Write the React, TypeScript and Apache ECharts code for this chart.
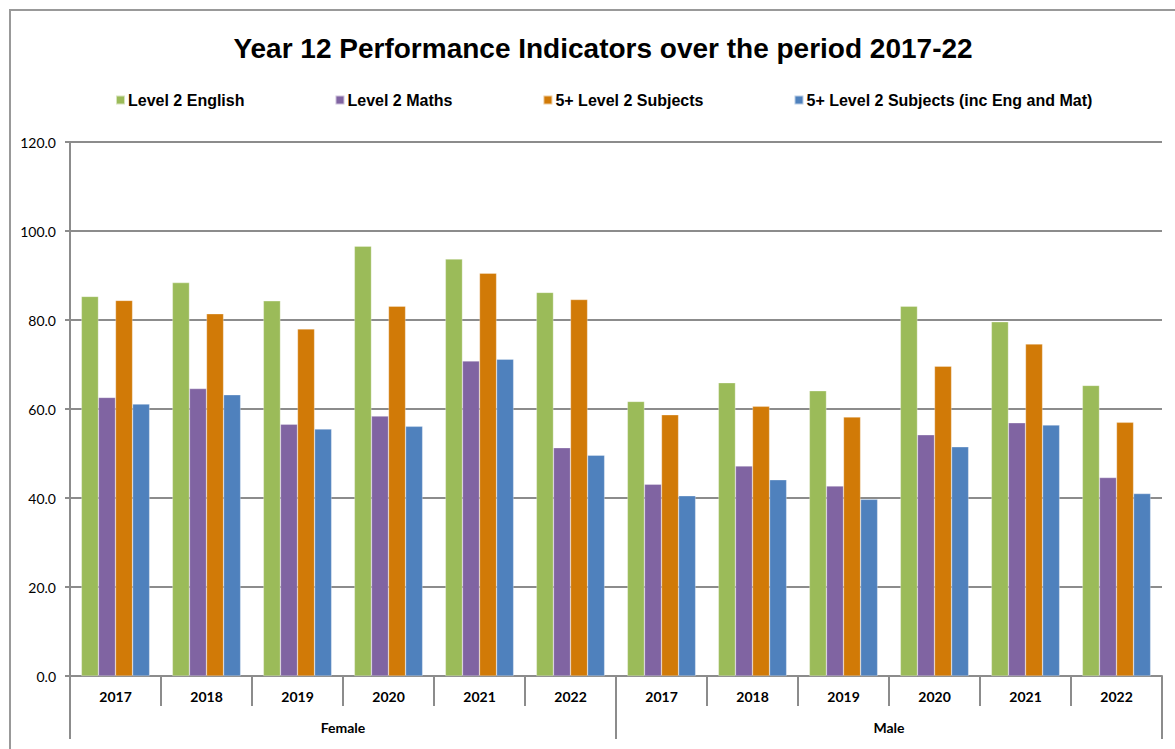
import React, { useEffect, useRef } from "react";
import * as echarts from "echarts";

const groups = ["Female", "Male"];
const years = ["2017", "2018", "2019", "2020", "2021", "2022"];
const seriesNames = [
  "Level 2 English",
  "Level 2 Maths",
  "5+ Level 2 Subjects",
  "5+ Level 2 Subjects (inc Eng and Mat)",
];
// Female 2017-2022 then Male 2017-2022
const english = [85.3, 88.4, 84.3, 96.6, 93.7, 86.2, 61.7, 65.9, 64.1, 83.1, 79.6, 65.3];
const maths = [62.6, 64.6, 56.6, 58.4, 70.8, 51.3, 43.1, 47.2, 42.7, 54.2, 56.9, 44.6];
const fivePlus = [84.4, 81.4, 78.0, 83.1, 90.5, 84.6, 58.7, 60.6, 58.2, 69.6, 74.6, 57.0];
const fivePlusEngMat = [61.1, 63.2, 55.5, 56.1, 71.2, 49.6, 40.5, 44.1, 39.7, 51.5, 56.4, 41.0];
const yTicks = [0, 20, 40, 60, 80, 100, 120];

const colors = ["#9BBB59", "#8064A2", "#D17A07", "#4F81BD"];
const gray = "#8c8c8c";

export default function App() {
  const ref = useRef<HTMLDivElement>(null);
  useEffect(() => {
    if (!ref.current) return;
    const chart = echarts.init(ref.current, undefined, { renderer: "svg" });
    const categories: string[] = [];
    groups.forEach((g) => years.forEach((y) => categories.push(g + "|" + y)));
    const values = [english, maths, fivePlus, fivePlusEngMat];
    chart.setOption({
      animation: false,
      backgroundColor: "#ffffff",
      title: {
        text: "Year 12 Performance Indicators over the period 2017-22",
        left: 598,
        textAlign: "center",
        top: 29,
        textStyle: {
          fontFamily: "Liberation Sans",
          fontWeight: "bold",
          fontSize: 28,
          color: "#000",
        },
      },
      legend: {
        data: seriesNames,
        left: 110,
        top: 87,
        itemWidth: 9,
        itemHeight: 9,
        itemGap: 90,
        icon: "rect",
        textStyle: {
          fontFamily: "Liberation Sans",
          fontWeight: "bold",
          fontSize: 16,
          color: "#000",
          padding: [0, 0, 0, -2],
        },
      },
      graphic: [
        {
          type: "rect",
          shape: { x: 10, y: 10, width: 1300, height: 900 },
          style: { fill: "none", stroke: "#999", lineWidth: 2 },
          silent: true,
        },
      ],
      grid: { left: 70, right: 13, top: 142, bottom: 73, containLabel: false },
      xAxis: [
        {
          type: "category",
          data: categories,
          position: "bottom",
          axisLine: { show: true, lineStyle: { color: gray, width: 2 } },
          axisTick: { show: true, interval: 0, length: 30, lineStyle: { color: gray, width: 2 } },
          axisLabel: {
            interval: 0,
            margin: 13,
            formatter: (v: string) => v.split("|")[1],
            fontFamily: "Lato",
            fontWeight: "bold",
            fontSize: 14,
            color: "#000",
          },
        },
        {
          type: "category",
          data: groups,
          position: "bottom",
          axisLine: { show: false },
          axisTick: { show: true, interval: 0, length: 63, lineStyle: { color: gray, width: 2 } },
          axisLabel: {
            interval: 0,
            margin: 44,
            fontFamily: "Lato",
            fontWeight: "bold",
            fontSize: 14,
            color: "#000",
          },
        },
      ],
      yAxis: {
        type: "value",
        min: 0,
        max: yTicks[yTicks.length - 1],
        interval: 20,
        axisLine: { show: true, lineStyle: { color: gray, width: 2 } },
        axisTick: { show: true, length: 5, lineStyle: { color: gray, width: 2 } },
        splitLine: { show: true, lineStyle: { color: gray, width: 2 } },
        axisLabel: {
          margin: 14,
          formatter: (v: number) => v.toFixed(1),
          fontFamily: "Lato",
          fontSize: 14,
          color: "#000",
        },
      },
      series: seriesNames.map((name, i) => ({
        name,
        type: "bar",
        xAxisIndex: 0,
        data: values[i],
        barGap: "0%",
        barCategoryGap: "25%",
        itemStyle: { color: colors[i], borderColor: "rgba(255,255,255,0.6)", borderWidth: 0.5 },
      })),
    });
    return () => chart.dispose();
  }, []);
  return (
    <div
      ref={ref}
      style={{ position: "absolute", left: 0, top: 0, width: 1175, height: 749 }}
    />
  );
}
